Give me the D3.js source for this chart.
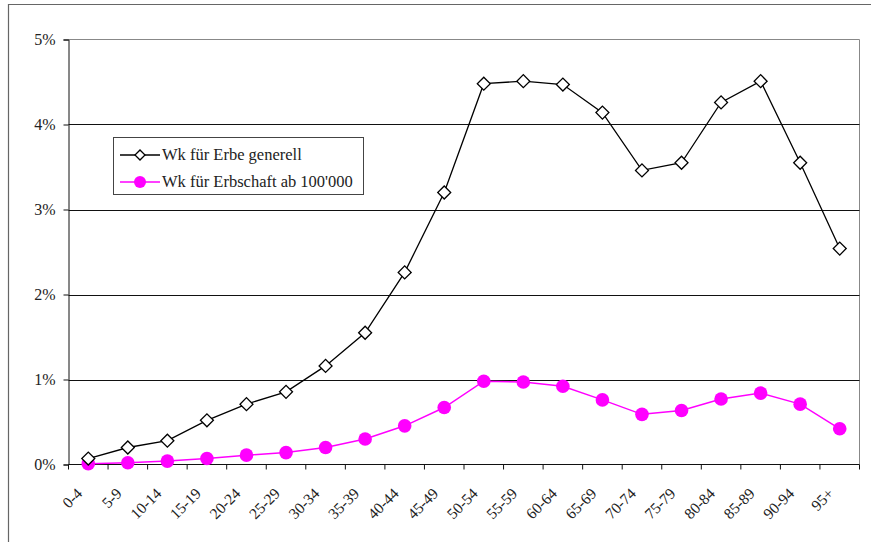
<!DOCTYPE html>
<html>
<head>
<meta charset="utf-8">
<script src="https://cdn.jsdelivr.net/npm/d3@7"></script>
<style>
  body { margin: 0; background: #fff; }
  svg { display: block; }
  text { font-family: "Liberation Serif", "DejaVu Serif", serif; fill: #222; }
</style>
</head>
<body>
<svg id="chart" width="871" height="542"></svg>
<script>
// Age groups
const ageGroups = ["0-4","5-9","10-14","15-19","20-24","25-29","30-34","35-39","40-44","45-49",
  "50-54","55-59","60-64","65-69","70-74","75-79","80-84","85-89","90-94","95+"];

// Probability of inheriting at all (percent)
const erbeGenerell = [0.07,0.20,0.28,0.52,0.71,0.855,1.16,1.55,2.26,3.20,
  4.48,4.51,4.47,4.14,3.46,3.55,4.26,4.51,3.55,2.54];

// Probability of an inheritance of 100'000 or more (percent)
const erbschaft100k = [0.01,0.02,0.04,0.07,0.11,0.14,0.20,0.30,0.455,0.67,
  0.98,0.97,0.92,0.76,0.59,0.635,0.77,0.84,0.71,0.42];

const yTicks = [0,1,2,3,4,5];
const seriesNames = ["Wk für Erbe generell", "Wk für Erbschaft ab 100'000"];

const svg = d3.select("#chart");
const plot = { left: 68.5, right: 859.5, top: 39.5, bottom: 464.5 };

// outer chart frame (right and bottom edges fall outside the view)
svg.append("path")
  .attr("d", "M8.5,542 V4.5 H871")
  .attr("fill", "none").attr("stroke", "#666").attr("stroke-width", 1.2);

const x = d3.scaleBand().domain(ageGroups).range([plot.left, plot.right]);
const y = d3.scaleLinear().domain([0, 5]).range([plot.bottom, plot.top]);

// plot area border (top and right)
svg.append("path")
  .attr("d", `M${plot.left},${plot.top} H${plot.right} V${plot.bottom}`)
  .attr("fill", "none").attr("stroke", "#888").attr("stroke-width", 1);

// horizontal gridlines
svg.append("g").selectAll("line")
  .data(yTicks.filter(t => t > 0 && t < 5))
  .join("line")
  .attr("x1", plot.left).attr("x2", plot.right)
  .attr("y1", d => Math.round(y(d)) + 0.5).attr("y2", d => Math.round(y(d)) + 0.5)
  .attr("stroke", "#111").attr("stroke-width", 1);

// y axis
const yAxis = svg.append("g")
  .attr("transform", `translate(${plot.left},0)`)
  .call(d3.axisLeft(y).tickValues(yTicks).tickFormat(d => d + "%").tickSize(5).tickPadding(8));
yAxis.select(".domain").attr("stroke", "#111");
yAxis.selectAll(".tick line").attr("stroke", "#111");
yAxis.selectAll(".tick text")
  .attr("font-size", 16).attr("fill", "#333")
  .style("font-family", "'Liberation Serif', serif");

// x axis with ticks on category boundaries
const xAxisG = svg.append("g").attr("transform", `translate(0,${plot.bottom})`);
xAxisG.append("line")
  .attr("x1", plot.left).attr("x2", plot.right)
  .attr("stroke", "#111");
const boundaries = ageGroups.map(d => x(d)).concat([plot.right]);
xAxisG.selectAll("line.tk")
  .data(boundaries)
  .join("line").attr("class", "tk")
  .attr("x1", d => d).attr("x2", d => d)
  .attr("y1", 0).attr("y2", 5)
  .attr("stroke", "#111");
xAxisG.selectAll("text")
  .data(ageGroups)
  .join("text")
  .attr("text-anchor", "end")
  .attr("font-size", 15.5)
  .attr("fill", "#333")
  .attr("transform", d => `translate(${x(d) + x.bandwidth() / 2 - 5},${30}) rotate(-45)`)
  .text(d => d);

const cx = d => x(d) + x.bandwidth() / 2;

// magenta series
const line = d3.line().x((d, i) => cx(ageGroups[i])).y(d => y(d));
svg.append("path")
  .datum(erbschaft100k)
  .attr("d", line)
  .attr("fill", "none").attr("stroke", "#ff00ff").attr("stroke-width", 1.5);
svg.append("g").selectAll("circle")
  .data(erbschaft100k)
  .join("circle")
  .attr("cx", (d, i) => cx(ageGroups[i]))
  .attr("cy", d => y(d))
  .attr("r", 6.8)
  .attr("fill", "#ff00ff");

// black series with diamonds
svg.append("path")
  .datum(erbeGenerell)
  .attr("d", line)
  .attr("fill", "none").attr("stroke", "#000").attr("stroke-width", 1.3);
const diamond = d3.symbol().type(d3.symbolSquare).size(84);
svg.append("g").selectAll("path")
  .data(erbeGenerell)
  .join("path")
  .attr("d", diamond)
  .attr("transform", (d, i) => `translate(${cx(ageGroups[i])},${y(d)}) rotate(45)`)
  .attr("fill", "#fff").attr("stroke", "#000").attr("stroke-width", 1.3);

// legend
const legend = svg.append("g");
legend.append("rect")
  .attr("x", 113.5).attr("y", 137.5).attr("width", 250).attr("height", 57)
  .attr("fill", "#fff").attr("stroke", "#444").attr("stroke-width", 1);
const rows = legend.selectAll("g.row")
  .data(seriesNames)
  .join("g").attr("class", "row")
  .attr("transform", (d, i) => `translate(120,${155 + i * 27})`);
rows.append("line")
  .attr("x1", 0).attr("x2", 40)
  .attr("stroke", (d, i) => i === 0 ? "#000" : "#ff00ff")
  .attr("stroke-width", (d, i) => i === 0 ? 1.3 : 1.5);
rows.each(function (d, i) {
  const g = d3.select(this);
  if (i === 0) {
    g.append("path")
      .attr("d", d3.symbol().type(d3.symbolSquare).size(50))
      .attr("transform", "translate(20,0) rotate(45)")
      .attr("fill", "#fff").attr("stroke", "#000").attr("stroke-width", 1.3);
  } else {
    g.append("circle").attr("cx", 20).attr("cy", 0).attr("r", 6)
      .attr("fill", "#ff00ff");
  }
});
rows.append("text")
  .attr("x", 42).attr("y", 5)
  .attr("font-size", 16.5)
  .attr("fill", "#222")
  .text(d => d);
</script>
</body>
</html>
